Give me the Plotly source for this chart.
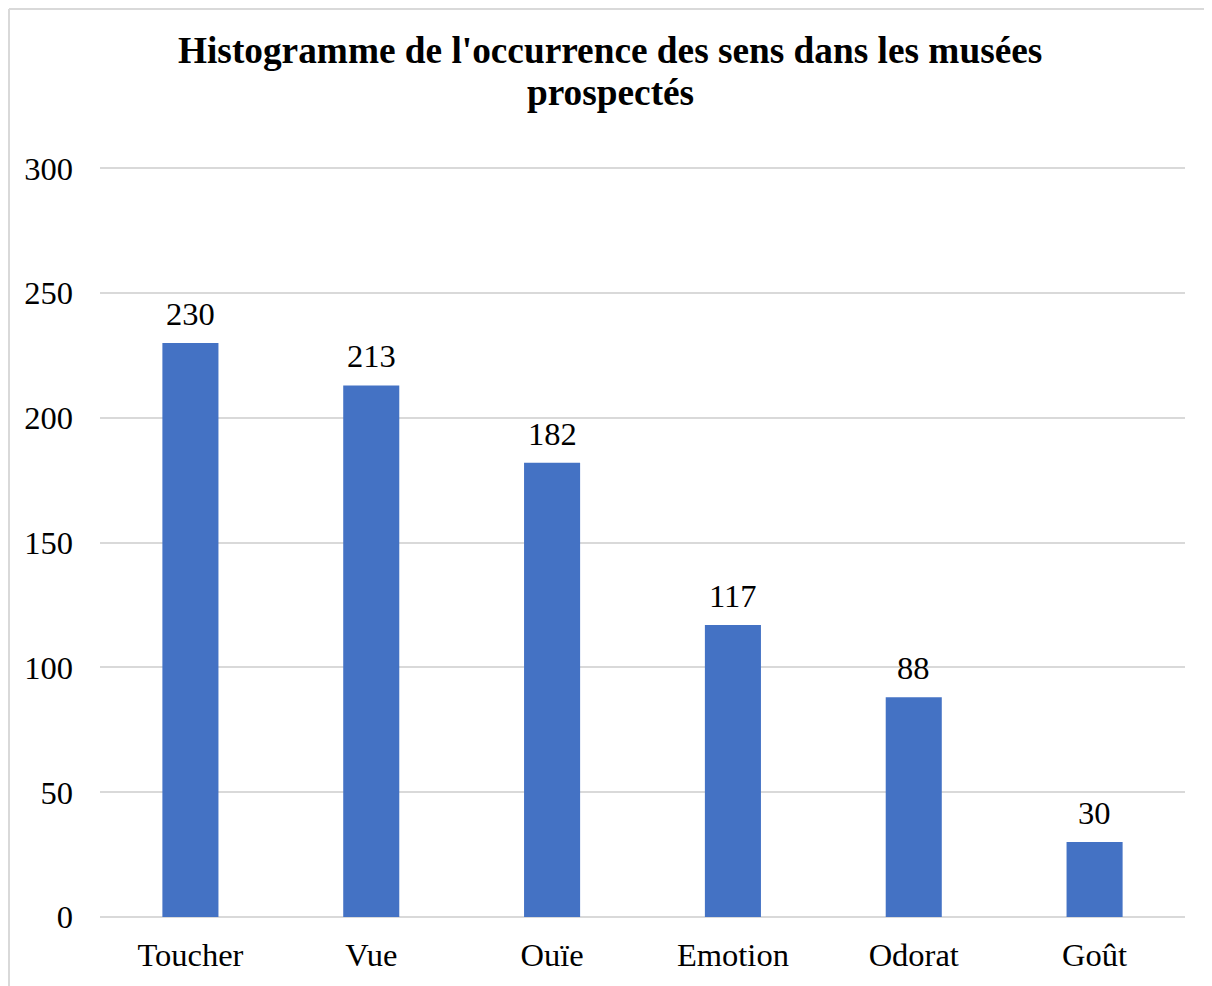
import plotly.graph_objects as go

categories = ["Toucher", "Vue", "Ouïe", "Emotion", "Odorat", "Goût"]
values = [230, 213, 182, 117, 88, 30]
y_ticks = [0, 50, 100, 150, 200, 250, 300]
title_lines = ["Histogramme de l'occurrence des sens dans les musées", "prospectés"]

FONT = "Liberation Serif, Times New Roman, serif"
FS = 32.5

W, H = 1204, 978
L, R, T, B = 92, 27, 159, 69
PW, PH = W - L - R, H - T - B

fig = go.Figure(go.Bar(
    x=categories, y=values, marker=dict(color="#4472C4", line=dict(width=0)),
    hoverinfo="x+y",
))

for c, v in zip(categories, values):
    fig.add_annotation(x=c, y=v, text=str(v), showarrow=False, yanchor="bottom",
                       yshift=9, font=dict(family=FONT, size=FS, color="#000000"))

# title lines, centred at page x ~610, line centres at page y ~50 and ~93
for i, line in enumerate(title_lines):
    cy = [50, 93][i] - 8
    fig.add_annotation(xref="paper", yref="paper", x=(610 - 8 - L) / PW,
                       y=1 + (T - cy) / PH, xanchor="center", yanchor="middle",
                       text=f"<b>{line}</b>", showarrow=False,
                       font=dict(family=FONT, size=37.3, color="#000000"))

fig.update_layout(
    width=W, height=H,
    margin=dict(l=L, r=R, t=T, b=B),
    paper_bgcolor="white", plot_bgcolor="white",
    bargap=0.69,
    showlegend=False,
    font=dict(family=FONT, size=FS, color="#000000"),
    xaxis=dict(showgrid=False, showline=False, zeroline=False,
               tickfont=dict(family=FONT, size=FS, color="#000000"),
               ticklabelstandoff=15),
    yaxis=dict(range=[0, 300.5], tickvals=y_ticks, showgrid=True, gridcolor="#d9d9d9",
               gridwidth=1.5, zeroline=True, zerolinecolor="#d9d9d9", zerolinewidth=1.5,
               showline=False, tickfont=dict(family=FONT, size=FS, color="#000000"),
               ticklabelstandoff=26),
    shapes=[
        dict(type="line", xref="paper", yref="paper", x0=(1 - L) / PW, x1=(1 - L) / PW,
             y0=-B / PH, y1=(T + PH - 1) / PH, line=dict(color="#d9d9d9", width=2)),
        dict(type="line", xref="paper", yref="paper", x0=(1 - L) / PW, x1=(W - L) / PW,
             y0=(T + PH - 1) / PH, y1=(T + PH - 1) / PH, line=dict(color="#d9d9d9", width=2)),
    ],
)

fig.write_html("out.html")
